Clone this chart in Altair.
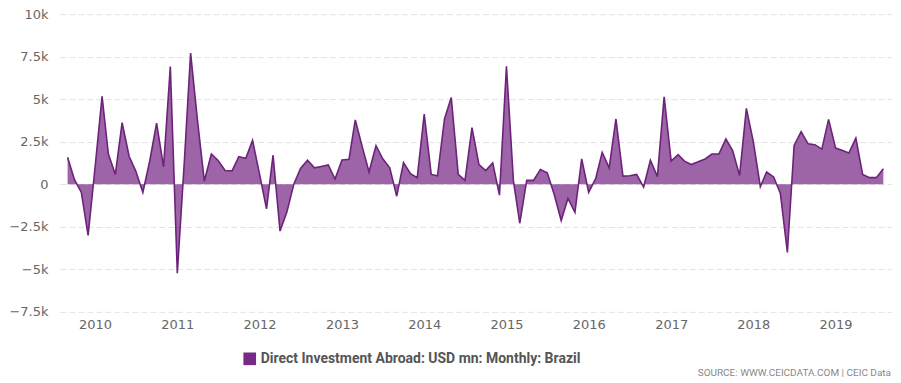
import altair as alt
import pandas as pd

# Monthly Direct Investment Abroad, Brazil (USD mn), Sep 2009 - Aug 2019
start_month = "2009-09-01"
values = [
    1590, 290, -480, -3000, 1000, 5170, 1780, 580, 3620, 1650, 760, -480,
    1400, 3590, 1030, 6920, -5230, 1300, 7710, 3700, 190, 1780, 1400, 810,
    790, 1630, 1530, 2580, 600, -1450, 1710, -2750, -1650, 0, 930, 1410,
    970, 1050, 1140, 310, 1430, 1470, 3780, 2200, 720, 2270, 1500, 970,
    -700, 1280, 620, 390, 4130, 580, 500, 3840, 5100, 580, 230, 3330,
    1160, 810, 1260, -640, 6940, 200, -2290, 230, 230, 870, 680, -600,
    -2130, -830, -1650, 1490, -480, 330, 1880, 970, 3840, 480, 500, 580,
    -160, 1410, 450, 5140, 1360, 1740, 1360, 1160, 1320, 1490, 1780, 1780,
    2660, 1980, 520, 4460, 2500, -140, 720, 430, -540, -4010, 2290, 3100,
    2380, 2330, 2070, 3820, 2130, 1980, 1840, 2710, 580, 390, 390, 910,
]
series_name = "Direct Investment Abroad: USD mn: Monthly: Brazil"
source_text = "SOURCE: WWW.CEICDATA.COM | CEIC Data"
y_ticks = [-7500, -5000, -2500, 0, 2500, 5000, 7500, 10000]
x_tick_years = list(range(2010, 2020))

months = pd.date_range(start_month, periods=len(values), freq="MS")
df = pd.DataFrame({"date": months.strftime("%Y-%m-%d"), "value": values, "series": series_name})

x_domain = [
    alt.DateTime(year=2009, month=7, date=29, utc=True),
    alt.DateTime(year=2019, month=9, date=4, utc=True),
]
x_vals = [alt.DateTime(year=y, month=1, date=1, utc=True) for y in x_tick_years]

x_enc = alt.X(
    "date:T",
    scale=alt.Scale(type="utc", domain=x_domain, nice=False),
    axis=alt.Axis(
        title=None, values=x_vals, format="%Y", formatType="utc", grid=False,
        domain=False, ticks=False, tickSize=0, labelPadding=7,
        labelFont="DejaVu Sans", labelFontSize=13, labelColor="#666666",
    ),
)
y_enc = alt.Y(
    "value:Q",
    scale=alt.Scale(domain=[-7500, 10000], nice=False, zero=False),
    axis=alt.Axis(
        title=None, values=y_ticks, domain=False, ticks=False, tickSize=0,
        labelPadding=12, labelFont="DejaVu Sans", labelFontSize=13,
        labelColor="#666666", grid=True, gridColor="#e3e3e3", gridDash=[6, 3],
        gridWidth=1,
        labelExpr="datum.value == 0 ? '0' : replace(format(datum.value / 1000, '~g'), '-', '\u2212') + 'k'",
    ),
)

base = alt.Chart(df)

area = base.mark_area(fillOpacity=0.72, line=False).encode(
    x=x_enc,
    y=y_enc,
    y2=alt.datum(0),
    color=alt.Color(
        "series:N",
        scale=alt.Scale(range=["#772a86"]),
        legend=alt.Legend(
            title=None, orient="none", legendX=183, legendY=338,
            symbolType="square", symbolSize=160, symbolStrokeWidth=0,
            symbolOpacity=1, labelFont="Roboto",
            labelFontSize=14, labelFontWeight="bold", labelColor="#555555",
            labelLimit=600,
        ),
    ),
)

line = base.mark_line(color="#6c2379", strokeWidth=1.6).encode(x="date:T", y="value:Q")

source = alt.Chart(pd.DataFrame({"t": [source_text]})).mark_text(
    align="right", baseline="middle", font="Roboto",
    fontSize=10, color="#888888",
).encode(x=alt.value(832), y=alt.value(359), text="t:N")

chart = (
    alt.layer(area, line, source)
    .properties(width=832, height=298, padding={"top": 0, "left": 0, "right": 2, "bottom": 0})
    .configure_view(stroke=None)
)

chart.save("out.html", embed_options={"renderer": "svg", "actions": False})
